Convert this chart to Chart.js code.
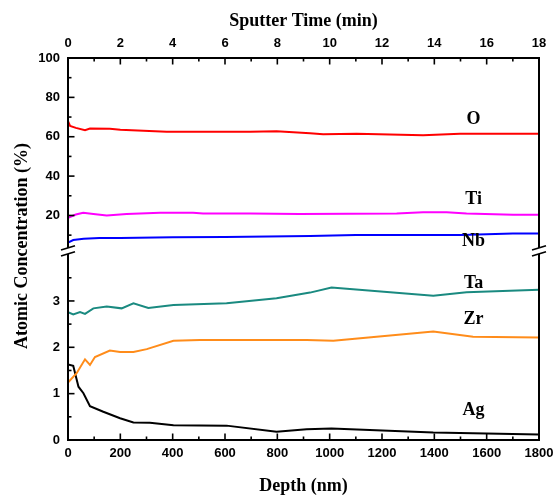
<!DOCTYPE html>
<html>
<head>
<meta charset="utf-8">
<script src="https://cdn.jsdelivr.net/npm/chart.js@4.4.0/dist/chart.umd.min.js"></script>
<style>
html,body{margin:0;padding:0;background:#fff;}
#wrap{width:556px;height:495px;}
</style>
</head>
<body>
<div id="wrap"><canvas id="c" width="556" height="495"></canvas></div>
<script>
// ---- tick labels ----
const depthTicks = [0, 200, 400, 600, 800, 1000, 1200, 1400, 1600, 1800];
const timeTicks = [0, 2, 4, 6, 8, 10, 12, 14, 16, 18];
const highTicks = [20, 40, 60, 80, 100];
const lowTicks = [0, 1, 2, 3];
const depthMinor = [100, 300, 500, 700, 900, 1100, 1300, 1500, 1700];
const timeMinor = [1, 3, 5, 7, 9, 11, 13, 15, 17];
const highMinor = [10, 30, 50, 70, 90];
const lowMinor = [0.5, 1.5, 2.5, 3.5];

// ---- series (depth in nm, atomic concentration in %) ----
const oDepth = [0, 8, 30, 65, 84, 160, 200, 377, 696, 797, 925, 975, 1103, 1357, 1498, 1701, 1800];
const oValue = [67.9, 65.5, 64.5, 63.3, 64.2, 64.0, 63.5, 62.5, 62.5, 62.8, 61.8, 61.2, 61.5, 60.8, 61.5, 61.5, 61.5];

const tiDepth = [0, 30, 58, 97, 148, 224, 352, 478, 516, 696, 885, 1256, 1357, 1447, 1523, 1701, 1800];
const tiValue = [18.8, 20.5, 21.4, 20.8, 20.0, 20.8, 21.4, 21.4, 21.0, 21.0, 20.8, 21.0, 21.6, 21.6, 21.0, 20.3, 20.3];

const nbDepth = [0, 20, 60, 120, 200, 400, 600, 925, 1100, 1500, 1700, 1800];
const nbValue = [6.2, 7.5, 8.2, 8.5, 8.5, 8.9, 9.1, 9.6, 10.1, 10.1, 10.8, 10.8];

const taDepth = [0, 20, 46, 65, 97, 148, 205, 250, 307, 403, 606, 797, 925, 1007, 1396, 1523, 1800];
const taValue = [2.76, 2.71, 2.76, 2.72, 2.84, 2.88, 2.84, 2.95, 2.85, 2.91, 2.95, 3.06, 3.18, 3.29, 3.11, 3.19, 3.24];

const zrDepth = [0, 33, 65, 84, 103, 160, 199, 250, 301, 403, 504, 912, 1014, 1396, 1548, 1800];
const zrValue = [1.24, 1.44, 1.74, 1.62, 1.79, 1.93, 1.90, 1.90, 1.96, 2.14, 2.16, 2.16, 2.14, 2.34, 2.23, 2.21];

const agDepth = [0, 20, 40, 59, 84, 135, 199, 250, 313, 403, 606, 797, 912, 1007, 1396, 1800];
const agValue = [1.63, 1.60, 1.15, 1.01, 0.73, 0.61, 0.47, 0.38, 0.37, 0.32, 0.31, 0.18, 0.23, 0.25, 0.16, 0.12];

// element labels (data units)
const elemNames = ['O', 'Ti', 'Nb', 'Ta', 'Zr', 'Ag'];
const elemAxis = ['yHigh', 'yHigh', 'yHigh', 'yLow', 'yLow', 'yLow'];
const elemAt = [[1550, 69], [1550, 28.4], [1550, 7.0], [1550, 3.38], [1550, 2.61], [1550, 0.63]];

function pts(xs, ys) { return xs.map((x, i) => ({x: x, y: ys[i]})); }

Chart.defaults.color = '#000';

const tickFont = {family: 'Liberation Sans', weight: 'bold', size: 13};
const titleFont = {family: 'Liberation Serif', weight: 'bold', size: 18, lineHeight: 1};
const plain = v => String(v);

function setTicks(arr) { return s => { s.ticks = arr.map(v => ({value: v})); }; }
function fixH(h) { return s => { s.height = h; s.paddingLeft = 0; s.paddingRight = 0; }; }

const framePlugin = {
  id: 'frame',
  afterDraw(chart) {
    const {ctx, chartArea: a, scales} = chart;
    const sx = scales.x, sx2 = scales.x2, yl = scales.yLow, yh = scales.yHigh;
    const brk = (yh.bottom + yl.top) / 2;
    ctx.save();
    ctx.strokeStyle = '#000';
    const line = (x1, y1, x2, y2) => { ctx.beginPath(); ctx.moveTo(x1, y1); ctx.lineTo(x2, y2); ctx.stroke(); };
    ctx.lineWidth = 2;
    line(a.left - 1, a.top, a.right + 1, a.top);
    line(a.left - 1, a.bottom, a.right + 1, a.bottom);
    const g = 3;
    for (const x of [a.left, a.right]) {
      line(x, a.top, x, brk - g);
      line(x, brk + g, x, a.bottom);
    }
    ctx.lineWidth = 1.6;
    for (const x of [a.left, a.right]) {
      for (const d of [-3, 3]) line(x - 7, brk + d + 2.2, x + 7, brk + d - 2.2);
    }
    // inward ticks
    ctx.lineWidth = 1.6;
    const maj = 6.5, mn = 3.5;
    depthTicks.forEach(v => { const p = sx.getPixelForValue(v); line(p, a.bottom, p, a.bottom - maj); });
    depthMinor.forEach(v => { const p = sx.getPixelForValue(v); line(p, a.bottom, p, a.bottom - mn); });
    timeTicks.forEach(v => { const p = sx2.getPixelForValue(v); line(p, a.top, p, a.top + maj); });
    timeMinor.forEach(v => { const p = sx2.getPixelForValue(v); line(p, a.top, p, a.top + mn); });
    highTicks.forEach(v => { const p = yh.getPixelForValue(v); line(a.left, p, a.left + maj, p); });
    highMinor.forEach(v => { const p = yh.getPixelForValue(v); line(a.left, p, a.left + mn, p); });
    lowTicks.forEach(v => { const p = yl.getPixelForValue(v); line(a.left, p, a.left + maj, p); });
    lowMinor.forEach(v => { const p = yl.getPixelForValue(v); line(a.left, p, a.left + mn, p); });

    // element labels
    ctx.fillStyle = '#000';
    ctx.font = 'bold 18px "Liberation Serif"';
    ctx.textAlign = 'center';
    ctx.textBaseline = 'middle';
    elemNames.forEach((n, i) => {
      const ys = scales[elemAxis[i]];
      ctx.fillText(n, sx.getPixelForValue(elemAt[i][0]), ys.getPixelForValue(elemAt[i][1]));
    });

    // y axis title
    ctx.save();
    ctx.translate(22, (a.top + a.bottom) / 2 - 3);
    ctx.rotate(-Math.PI / 2);
    ctx.font = 'bold 18px "Liberation Serif"';
    ctx.fillText('Atomic Concentration (%)', 0, 0);
    ctx.restore();
    ctx.restore();
  }
};

const ds = (label, xs, ys, color, axis) => ({
  label: label, data: pts(xs, ys), borderColor: color, backgroundColor: color,
  borderWidth: 2, pointRadius: 0, tension: 0, fill: false, yAxisID: axis, xAxisID: 'x'
});

new Chart(document.getElementById('c'), {
  type: 'line',
  data: {
    datasets: [
      ds('O', oDepth, oValue, '#ff0000', 'yHigh'),
      ds('Ti', tiDepth, tiValue, '#ff00ff', 'yHigh'),
      ds('Nb', nbDepth, nbValue, '#0000ff', 'yHigh'),
      ds('Ta', taDepth, taValue, '#1a8a80', 'yLow'),
      ds('Zr', zrDepth, zrValue, '#ff8c1a', 'yLow'),
      ds('Ag', agDepth, agValue, '#000000', 'yLow')
    ]
  },
  options: {
    responsive: false,
    animation: false,
    devicePixelRatio: 1,
    layout: {padding: {left: 0, right: 17, top: 0, bottom: 0}},
    plugins: {legend: {display: false}, tooltip: {enabled: false}},
    scales: {
      x: {
        type: 'linear', position: 'bottom', min: 0, max: 1800,
        afterBuildTicks: setTicks(depthTicks),
        afterFit: fixH(55),
        grid: {display: false, drawTicks: false}, border: {display: false},
        ticks: {padding: 6, font: tickFont, maxRotation: 0, autoSkip: false, callback: plain},
        title: {display: true, text: 'Depth (nm)', font: titleFont, padding: {top: 0, bottom: 0}}
      },
      x2: {
        type: 'linear', position: 'top', min: 0, max: 18,
        afterBuildTicks: setTicks(timeTicks),
        afterFit: fixH(58),
        grid: {display: false, drawTicks: false}, border: {display: false},
        ticks: {padding: 7, font: tickFont, maxRotation: 0, autoSkip: false, callback: plain},
        title: {display: true, text: 'Sputter Time (min)', font: titleFont, padding: {top: 12, bottom: 0}}
      },
      yLow: {
        type: 'linear', position: 'left', stack: 'y', stackWeight: 1, min: 0, max: 4.08,
        afterBuildTicks: setTicks(lowTicks),
        afterFit: s => { s.width = 68; },
        grid: {display: false, drawTicks: false}, border: {display: false},
        ticks: {padding: 8, font: tickFont, autoSkip: false, callback: plain}
      },
      yHigh: {
        type: 'linear', position: 'left', stack: 'y', stackWeight: 1.02, min: 2, max: 100,
        afterBuildTicks: setTicks(highTicks),
        afterFit: s => { s.width = 68; },
        grid: {display: false, drawTicks: false}, border: {display: false},
        ticks: {padding: 8, font: tickFont, autoSkip: false, callback: plain}
      }
    }
  },
  plugins: [framePlugin]
});
</script>
</body>
</html>
